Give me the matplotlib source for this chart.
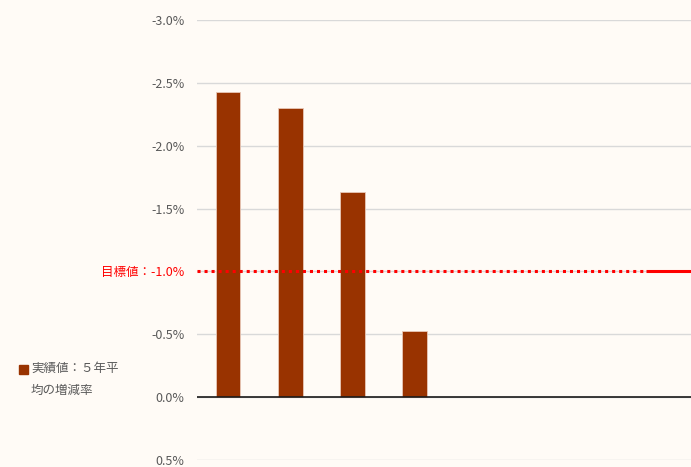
import matplotlib.pyplot as plt
from matplotlib.patches import Rectangle

plt.rcParams['font.family'] = ['Noto Sans CJK JP', 'DejaVu Sans']

categories = ['1', '2', '3', '4', '5', '6', '7', '8']
actual = [-2.43, -2.30, -1.63, -0.53, None, None, None, None]
target = -1.0
yticks = [0.5, 0.0, -0.5, -1.0, -1.5, -2.0, -2.5, -3.0]
legend_lines = ['実績値：５年平', '均の増減率']
target_label = '目標値：-1.0%'

bg = '#FFFBF6'
bar_color = '#993300'

fig = plt.figure(figsize=(6.91, 4.67), dpi=100, facecolor=bg)
ax = fig.add_axes([197 / 691, 1 - 460 / 467, 1 - 197 / 691, 440 / 467])
ax.set_facecolor(bg)

xs = [i for i, v in enumerate(actual) if v is not None]
vals = [v for v in actual if v is not None]
ax.bar(xs, vals, width=0.4, color=bar_color, edgecolor='#E8C8B8', linewidth=0.6, zorder=3)

# target line: dotted, last stretch solid
ax.plot([-0.5, 6.73], [target, target], color='#FF0000', linestyle=(0, (1, 1.3)),
        linewidth=2.2, zorder=4)
ax.plot([6.73, 7.5], [target, target], color='#FF0000', linewidth=2.2, zorder=4,
        solid_capstyle='butt')

ax.set_xlim(-0.5, 7.45)
ax.set_ylim(0.5, -3.0)
ax.set_yticks(yticks)
labels = [target_label if t == target else '%.1f%%' % t for t in yticks]
ax.set_yticklabels(labels)
for lbl, t in zip(ax.get_yticklabels(), yticks):
    lbl.set_color('#FF0000' if t == target else '#595959')
ax.tick_params(axis='y', length=0, labelsize=9, pad=9)
ax.set_xticks([])

ax.grid(axis='y', color='#D9D9D9', linewidth=1, zorder=0)
ax.axhline(0, color='#1a1a1a', linewidth=1.2, zorder=5)
for s in ax.spines.values():
    s.set_visible(False)

# legend at lower left
fig.patches.append(Rectangle((19 / 691, 1 - 374 / 467), 9 / 691, 9 / 467,
                             transform=fig.transFigure, color=bar_color))
fig.text(31 / 691, 1 - 362 / 467, legend_lines[0], fontsize=9, color='#595959',
         va='top', ha='left')
fig.text(31 / 691, 1 - 384 / 467, legend_lines[1], fontsize=9, color='#595959',
         va='top', ha='left')

fig.savefig('out.png', dpi=100, facecolor=bg)
